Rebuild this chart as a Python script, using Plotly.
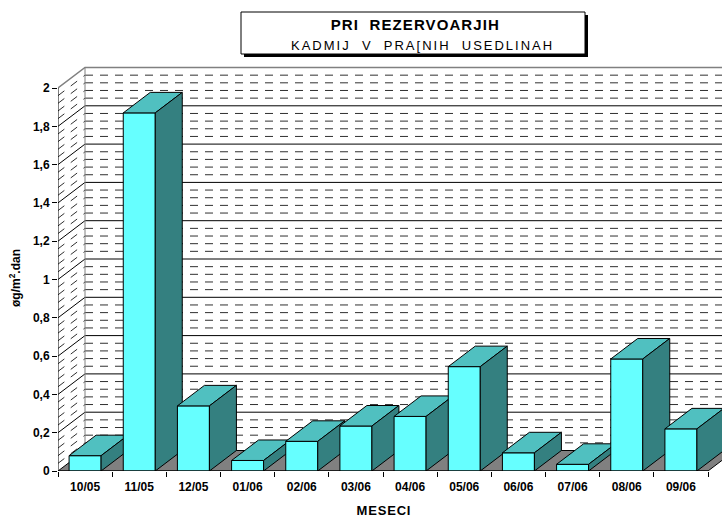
import plotly.graph_objects as go

# Monthly cadmium deposition in dust fall at the reservoirs
months = ["10/05", "11/05", "12/05", "01/06", "02/06", "03/06",
          "04/06", "05/06", "06/06", "07/06", "08/06", "09/06"]
cadmium = [0.08, 1.87, 0.34, 0.055, 0.155, 0.235,
           0.285, 0.545, 0.095, 0.035, 0.585, 0.22]

y_tick_vals = [0, 0.2, 0.4, 0.6, 0.8, 1.0, 1.2, 1.4, 1.6, 1.8, 2.0]
y_tick_text = ["0", "0,2", "0,4", "0,6", "0,8", "1", "1,2", "1,4", "1,6", "1,8", "2"]
y_minor_step = 0.04

title_main = "PRI\u00a0\u00a0REZERVOARJIH"
title_sub = "KADMIJ\u00a0\u00a0V\u00a0\u00a0PRA[NIH\u00a0\u00a0USEDLINAH"
x_title = "MESECI"
y_title = "øg/m<sup>2</sup>.dan"

# colours
FRONT = "#66FFFF"
TOP = "#50C0C0"
SIDE = "#348080"
FLOOR = "#808080"
EDGE = "#808080"
FONT = "Liberation Sans, Arial, sans-serif"

# figure geometry
W, H = 722, 517
ML, MR, MT, MB = 58, 0, 61, 46
plot_w = W - ML - MR
plot_h = H - MT - MB
px_per_cat = 650 / len(months)
px_per_unit = 383 / 2.0
x_min = -0.5
x_max = x_min + plot_w / px_per_cat
y_max = plot_h / px_per_unit

# 3-D depth offset expressed in axis units
DX = 27 / px_per_cat
DY = 20.5 / px_per_unit
BAR_W = 32 / px_per_cat

n = len(months)
x_left, x_right = -0.5, n - 0.5

fig = go.Figure()


def add_lines(xs, ys, color, width=1, dash="solid"):
    fig.add_trace(go.Scatter(x=xs, y=ys, mode="lines",
                             line=dict(color=color, width=width, dash=dash),
                             hoverinfo="skip", showlegend=False))


def add_poly(xs, ys, fill):
    fig.add_trace(go.Scatter(x=xs + [xs[0]], y=ys + [ys[0]], mode="lines",
                             fill="toself", fillcolor=fill,
                             line=dict(color="black", width=1),
                             hoverinfo="skip", showlegend=False))


# grid levels
steps = int(round(2.0 / y_minor_step))
levels = [round(i * y_minor_step, 4) for i in range(steps + 1)]
major = [v for v in levels if abs(v / 0.2 - round(v / 0.2)) < 1e-6]
minor = [v for v in levels if v not in major]

# back wall: dashed minor lines
bx, by = [], []
for v in minor:
    bx += [x_left + DX, x_max + 1, None]
    by += [v + DY, v + DY, None]
add_lines(bx, by, "#303030", 1, "8px,7px")

# back wall: solid major lines
bx, by = [], []
for v in major[1:-1]:
    bx += [x_left + DX, x_max + 1, None]
    by += [v + DY, v + DY, None]
add_lines(bx, by, "black", 1)

# side wall: dashed minor diagonals
sx, sy = [], []
for v in minor:
    sx += [x_left, x_left + DX, None]
    sy += [v, v + DY, None]
add_lines(sx, sy, "#303030", 1, "8px,8px")

# side wall: solid major diagonals
sx, sy = [], []
for v in major[1:-1]:
    sx += [x_left, x_left + DX, None]
    sy += [v, v + DY, None]
add_lines(sx, sy, "black", 1)

# wall outer edges
add_lines([x_left, x_left + DX, x_max + 1], [2.0, 2.0 + DY, 2.0 + DY], EDGE, 1.5)
add_lines([x_left + DX, x_left + DX], [DY, 2.0 + DY], EDGE, 1)

# floor
add_poly([x_left, x_right, x_right + DX, x_left + DX], [0, 0, DY, DY], FLOOR)

# bars, left to right so each covers its neighbour's side face
for i, v in enumerate(cadmium):
    l, r = i - BAR_W / 2, i + BAR_W / 2
    add_poly([l, r, r, l], [0, 0, v, v], FRONT)
    add_poly([l, r, r + DX, l + DX], [v, v, v + DY, v + DY], TOP)
    add_poly([r, r + DX, r + DX, r], [0, DY, v + DY, v], SIDE)

# front axis lines
add_lines([x_left, x_left], [0, 2.0], "black", 1)
add_lines([x_left, x_right], [0, 0], "black", 1)

fig.update_layout(
    width=W, height=H,
    margin=dict(l=ML, r=MR, t=MT, b=MB, autoexpand=False),
    paper_bgcolor="white", plot_bgcolor="white",
    showlegend=False,
    font=dict(family=FONT, color="black"),
    xaxis=dict(range=[x_min, x_max], showgrid=False, zeroline=False,
               showline=False, tickmode="array",
               tickvals=list(range(n)), ticktext=months,
               ticks="outside", ticklen=5, tickcolor="rgba(0,0,0,0)",
               tickfont=dict(size=12, family=FONT, weight="bold"),
               minor=dict(tickmode="array",
                          tickvals=[k - 0.5 for k in range(n + 1)],
                          ticks="outside", ticklen=5, tickcolor="black",
                          tickwidth=1, showgrid=False),
               fixedrange=True),
    yaxis=dict(range=[0, y_max], showgrid=False, zeroline=False,
               showline=False, tickmode="array",
               tickvals=y_tick_vals, ticktext=y_tick_text,
               ticks="outside", ticklen=5, tickcolor="black", tickwidth=1,
               tickfont=dict(size=12, family=FONT, weight="bold"),
               fixedrange=True),
)


def px_x(p):
    return (p - ML) / plot_w


def px_y(p):
    return (H - MB - p) / plot_h


# title box with drop shadow
box = (241, 12, 585, 54)
fig.add_shape(type="rect", xref="paper", yref="paper",
              x0=px_x(box[0] + 3), x1=px_x(box[2] + 3),
              y0=px_y(box[1] + 3), y1=px_y(box[3] + 3),
              fillcolor="black", line=dict(width=0))
fig.add_shape(type="rect", xref="paper", yref="paper",
              x0=px_x(box[0]), x1=px_x(box[2]),
              y0=px_y(box[1]), y1=px_y(box[3]),
              fillcolor="white", line=dict(color="black", width=1))


def add_text(text, cx, cy, size, bold=False, angle=0):
    fig.add_annotation(text=text, xref="paper", yref="paper",
                       x=px_x(cx), y=px_y(cy), xanchor="center",
                       yanchor="middle", showarrow=False, textangle=angle,
                       font=dict(size=size, family=FONT,
                                 weight="bold" if bold else "normal"))


add_text(title_main, 415, 25, 15, bold=True)
add_text(title_sub, 422, 46, 13)
add_text(x_title, 384, 510, 13, bold=True)
add_text(y_title, 15, 278, 12, bold=True, angle=-90)

# widen letter spacing of the title lines
post = """
var gd = document.getElementById('{plot_id}');
gd.querySelectorAll('text.annotation-text').forEach(function (t) {
  var s = t.textContent;
  if (s.indexOf('KADMIJ') >= 0) { t.style.letterSpacing = '2.0px'; }
  else if (s.indexOf('REZERVOARJIH') >= 0) { t.style.letterSpacing = '1.1px'; }
  else if (s.indexOf('MESECI') >= 0) { t.style.letterSpacing = '0.8px'; }
});
"""

fig.write_html("out.html", post_script=post)
